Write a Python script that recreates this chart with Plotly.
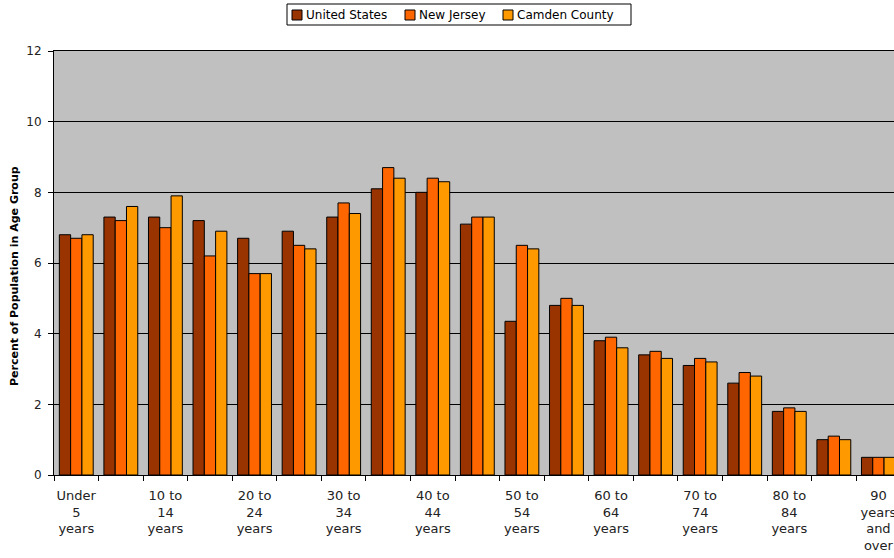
import plotly.graph_objects as go

# age groups (only every other one gets a label on the axis, like the original)
age_groups = ['Under<br>5<br>years', '5 to<br>9<br>years', '10 to<br>14<br>years', '15 to<br>19<br>years',
              '20 to<br>24<br>years', '25 to<br>29<br>years', '30 to<br>34<br>years', '35 to<br>39<br>years',
              '40 to<br>44<br>years', '45 to<br>49<br>years', '50 to<br>54<br>years', '55 to<br>59<br>years',
              '60 to<br>64<br>years', '65 to<br>69<br>years', '70 to<br>74<br>years', '75 to<br>79<br>years',
              '80 to<br>84<br>years', '85 to<br>89<br>years', '90<br>years<br>and<br>over']

united_states = [6.8, 7.3, 7.3, 7.2, 6.7, 6.9, 7.3, 8.1, 8.0, 7.1, 4.35, 4.8, 3.8, 3.4, 3.1, 2.6, 1.8, 1.0, 0.5]
new_jersey    = [6.7, 7.2, 7.0, 6.2, 5.7, 6.5, 7.7, 8.7, 8.4, 7.3, 6.5, 5.0, 3.9, 3.5, 3.3, 2.9, 1.9, 1.1, 0.5]
camden_county = [6.8, 7.6, 7.9, 6.9, 5.7, 6.4, 7.4, 8.4, 8.3, 7.3, 6.4, 4.8, 3.6, 3.3, 3.2, 2.8, 1.8, 1.0, 0.5]

series_names = ['United States', 'New Jersey', 'Camden County']
series_vals = [united_states, new_jersey, camden_county]
series_colors = ['#993300', '#FF6600', '#FF9900']

xpos = list(range(len(age_groups)))

# plot area in pixels (used only for the hand made legend box + y title)
L, R, T, B = 54, 894, 51, 475
def px(x): return (x - L) / (R - L)
def py(y): return (B - y) / (B - T)

fig = go.Figure()
for name, vals, col in zip(series_names, series_vals, series_colors):
    fig.add_trace(go.Bar(x=xpos, y=vals, name=name, showlegend=False,
                         marker=dict(color=col, line=dict(color='black', width=1))))

#legend like excel: small squares close to the text
shapes = [dict(type='rect', xref='paper', yref='paper', x0=px(287), x1=px(631), y0=py(25), y1=py(4),
               line=dict(color='black', width=1), fillcolor='white', layer='above')]
annotations = []
sq_left = [292, 405, 503]
for name, col, x0 in zip(series_names, series_colors, sq_left):
    shapes.append(dict(type='rect', xref='paper', yref='paper', x0=px(x0), x1=px(x0 + 10), y0=py(20), y1=py(10),
                       line=dict(color='black', width=1), fillcolor=col, layer='above'))
    annotations.append(dict(text=name, xref='paper', yref='paper', x=px(x0 + 12), y=py(15),
                            xanchor='left', yanchor='middle', showarrow=False,
                            font=dict(size=12, color='black', family='DejaVu Sans')))

# y title
annotations.append(dict(text='<b>Percent of Population in Age Group</b>', xref='paper', yref='paper',
                        x=px(14), y=py(276), xanchor='center', yanchor='middle', textangle=-90,
                        showarrow=False, font=dict(size=11, color='black', family='DejaVu Sans')))

fig.update_layout(
    width=894, height=558,
    barmode='group', bargap=0.24, bargroupgap=0,
    plot_bgcolor='#C0C0C0', paper_bgcolor='white',
    margin=dict(l=L, r=0, t=T, b=558 - B),
    font=dict(family='DejaVu Sans', color='#222222'),
    shapes=shapes, annotations=annotations,
)

fig.update_xaxes(range=[-0.5, 18.35], tickmode='array',
                 tickvals=xpos[::2], ticktext=age_groups[::2],
                 ticks='', tickfont=dict(size=13),
                 ticklabelstandoff=8, ticklabeloverflow='allow',
                 minor=dict(tick0=0.5, dtick=1, ticks='outside', ticklen=5, tickcolor='black', showgrid=False),
                 showline=True, linecolor='black', linewidth=1, mirror=True,
                 showgrid=False, automargin=False)

fig.update_yaxes(range=[0, 12], dtick=2, ticks='outside', ticklen=5, tickcolor='black',
                 tickfont=dict(size=12), ticklabelstandoff=4,
                 showline=True, linecolor='black', linewidth=1,
                 showgrid=True, gridcolor='black', gridwidth=1, zeroline=False,
                 automargin=False)

fig.write_html("out.html", config={'displayModeBar': False},
               post_script="document.body.style.margin='0px';")
